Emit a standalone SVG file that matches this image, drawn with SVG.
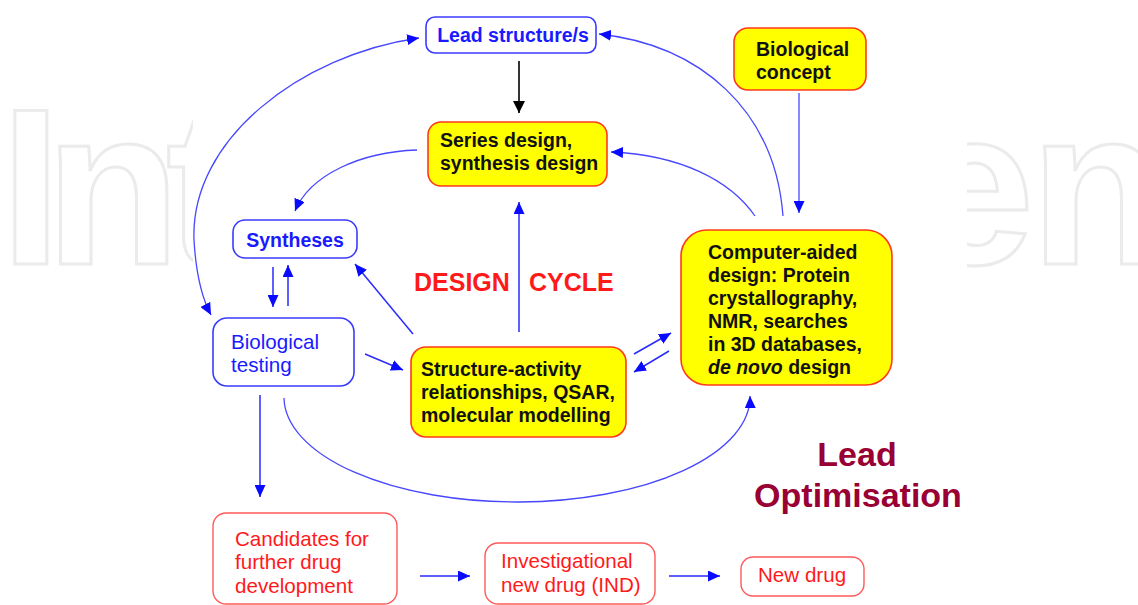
<svg xmlns="http://www.w3.org/2000/svg" width="1138" height="605" viewBox="0 0 1138 605">
<style>
.wm{font-family:"Liberation Sans",Arial,sans-serif;font-weight:bold;font-size:222px;fill:none;stroke:#ebebeb;stroke-width:3}
.bb{fill:#fff;stroke:#3b3bff;stroke-width:1.6}
.yb{fill:#ffff00;stroke:#ff3a1a;stroke-width:1.6}
.rb{fill:#fff;stroke:#ff5a5a;stroke-width:1.4}
.t{font-family:"Liberation Sans",Arial,sans-serif;font-size:19.5px;font-weight:bold}
.tr{font-family:"Liberation Sans",Arial,sans-serif;font-size:20.6px}
.blue{fill:#1a1aff}
.blk{fill:#111}
.red{fill:#ff1a1a}
.c{fill:none;stroke:#2a2aff;stroke-width:1.5}
.cl{fill:none;stroke:#4747ff;stroke-width:1.3}
</style>
<defs>
<marker id="ab" markerUnits="userSpaceOnUse" markerWidth="13" markerHeight="11" refX="12" refY="5.5" orient="auto-start-reverse"><path d="M0,0 L12,5.5 L0,11 z" fill="#0a0aff"/></marker>
<marker id="ak" markerUnits="userSpaceOnUse" markerWidth="13" markerHeight="12" refX="12" refY="6" orient="auto"><path d="M0,0 L12,6 L0,12 z" fill="#000"/></marker>
</defs>
<rect width="1138" height="605" fill="#fff"/>
<g id="watermark">
<text class="wm" x="0 45 166" y="264">Int</text>
<text class="wm" x="911 1030" y="264">en</text>
<rect x="193" y="95" width="774" height="185" fill="#fff"/>
</g>
<g id="connectors">
<line x1="519" y1="61" x2="519" y2="113" stroke="#000" stroke-width="1.6" marker-end="url(#ak)"/>
<line class="cl" x1="799" y1="93" x2="799" y2="213" marker-end="url(#ab)"/>
<path class="cl" d="M783,216 C775,110 700,45 599,34" marker-end="url(#ab)"/>
<path class="cl" d="M755,216 C730,180 680,155 611,152" marker-end="url(#ab)"/>
<path class="cl" d="M417,150 C360,152 310,175 295,211" marker-end="url(#ab)"/>
<line class="c" x1="273" y1="267" x2="273" y2="307" marker-end="url(#ab)"/>
<line class="c" x1="288" y1="306" x2="288" y2="265" marker-end="url(#ab)"/>
<line class="c" x1="413" y1="334" x2="355" y2="264" marker-end="url(#ab)"/>
<line class="c" x1="365" y1="354" x2="403" y2="370" marker-end="url(#ab)"/>
<line class="c" x1="519" y1="332" x2="519" y2="202" marker-end="url(#ab)"/>
<line class="c" x1="634" y1="354" x2="671" y2="333" marker-end="url(#ab)"/>
<line class="c" x1="669" y1="351" x2="634" y2="372" marker-end="url(#ab)"/>
<path class="cl" d="M284,398 A233,105 0 0 0 750,396" marker-end="url(#ab)"/>
<path class="cl" d="M419,38 C300,55 190,140 194,240 C196,275 203,300 211,315" marker-start="url(#ab)" marker-end="url(#ab)"/>
<line class="c" x1="260" y1="395" x2="260" y2="497" marker-end="url(#ab)"/>
<line class="c" x1="420" y1="576" x2="470" y2="576" marker-end="url(#ab)"/>
<line class="c" x1="669" y1="576" x2="720" y2="576" marker-end="url(#ab)"/>
</g>
<g id="lead-structure">
<rect class="bb" x="426" y="17" width="170" height="36" rx="9"/>
<text class="t blue" x="513" y="42" text-anchor="middle">Lead structure/s</text>
</g>
<g id="biological-concept">
<rect class="yb" x="734" y="28" width="132" height="62" rx="14"/>
<text class="t blk" x="756" y="56">Biological</text>
<text class="t blk" x="756" y="79">concept</text>
</g>
<g id="series-design">
<rect class="yb" x="428" y="122" width="179" height="64" rx="13"/>
<text class="t blk" x="440" y="147">Series design,</text>
<text class="t blk" x="440" y="170">synthesis design</text>
</g>
<g id="syntheses">
<rect class="bb" x="233" y="220" width="124" height="38" rx="12"/>
<text class="t blue" x="295" y="247" text-anchor="middle">Syntheses</text>
</g>
<g id="biological-testing">
<rect class="bb" x="213" y="318" width="141" height="68" rx="14"/>
<text class="tr blue" x="231" y="349">Biological</text>
<text class="tr blue" x="231" y="372">testing</text>
</g>
<g id="design-cycle">
<text class="red" x="414" y="291" style="font-family:'Liberation Sans',Arial,sans-serif;font-weight:bold;font-size:25px">DESIGN</text>
<text class="red" x="529" y="291" style="font-family:'Liberation Sans',Arial,sans-serif;font-weight:bold;font-size:25px">CYCLE</text>
</g>
<g id="sar">
<rect class="yb" x="411" y="347" width="215" height="90" rx="15"/>
<text class="t blk" x="421" y="376">Structure-activity</text>
<text class="t blk" x="421" y="399">relationships, QSAR,</text>
<text class="t blk" x="421" y="422">molecular modelling</text>
</g>
<g id="computer-aided">
<rect class="yb" x="681" y="230" width="211" height="155" rx="26"/>
<text class="t blk" x="708" y="259">Computer-aided</text>
<text class="t blk" x="708" y="282">design: Protein</text>
<text class="t blk" x="708" y="305">crystallography,</text>
<text class="t blk" x="708" y="328">NMR, searches</text>
<text class="t blk" x="708" y="351">in 3D databases,</text>
<text class="t blk" x="708" y="374"><tspan font-style="italic">de novo</tspan> design</text>
</g>
<g id="lead-optimisation">
<text x="857" y="466" text-anchor="middle" style="font-family:'Liberation Sans',Arial,sans-serif;font-weight:bold;font-size:34px;fill:#990033">Lead</text>
<text x="858" y="507" text-anchor="middle" style="font-family:'Liberation Sans',Arial,sans-serif;font-weight:bold;font-size:34px;fill:#990033">Optimisation</text>
</g>
<g id="candidates">
<rect class="rb" x="213" y="513" width="184" height="91" rx="13"/>
<text class="tr red" x="235" y="546">Candidates for</text>
<text class="tr red" x="235" y="569">further drug</text>
<text class="tr red" x="235" y="593">development</text>
</g>
<g id="ind">
<rect class="rb" x="485" y="543" width="170" height="61" rx="13"/>
<text class="tr red" x="501" y="568">Investigational</text>
<text class="tr red" x="501" y="592">new drug (IND)</text>
</g>
<g id="new-drug">
<rect class="rb" x="741" y="557" width="123" height="39" rx="12"/>
<text class="tr red" x="758" y="582">New drug</text>
</g>
</svg>
